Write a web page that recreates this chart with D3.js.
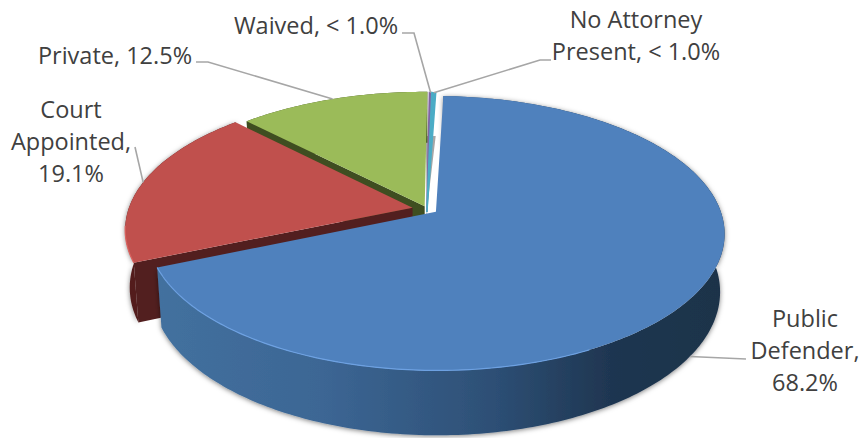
<!DOCTYPE html>
<html>
<head>
<meta charset="utf-8">
<script src="https://cdn.jsdelivr.net/npm/d3@7"></script>
<style>
  html, body { margin: 0; padding: 0; background: #fff; }
  text { font-family: "Open Sans", sans-serif; font-size: 23.5px; fill: #404040; }
</style>
</head>
<body>
<div id="chart"></div>
<script>
const categories = ["Public Defender", "Court Appointed", "Private", "Waived", "No Attorney Present"];
const shares = [68.2, 19.1, 12.5, 0.15, 0.25];
const shareLabels = ["68.2%", "19.1%", "12.5%", "< 1.0%", "< 1.0%"];

const width = 860, height = 438;

// Perspective set up for the tilted disc
const cx = 427, cy = 209;
const radiusX = 284, radiusY = 133;
const tilt = 0.155, thickness = 58, depthFade = 0.015;
const explode = [0.038, 0.052, 0.022, 0.012, 0.012];
const apexReach = [0, 0, 0, 0.035, 0.035];

function project(angle, r, z, offset, amount) {
    let u = r * Math.sin(angle) + amount * Math.sin(offset);
    let v = r * Math.cos(angle) + amount * Math.cos(offset);
    let w = 1 + tilt * v + depthFade * z;
    return [cx + radiusX * u / w, cy - (radiusY * v - thickness * z) / w];
}

const topColors = ["#4f81bd", "#c0504d", "#9bbb59", "#8064a2", "#4bacc6"];
const wallColors = ["url(#blueWall)", "#521f1f", "#3f4e21"];
const rimColors = ["#6da1e2", "#dc6460", "#b3d669"];

const pie = d3.pie().sort(null).startAngle(2 * Math.PI / 180).endAngle(362 * Math.PI / 180);
const slices = pie(shares).map((d, i) => {
    d.name = categories[i];
    d.mid = (d.startAngle + d.endAngle) / 2;
    d.i = i;
    return d;
});

const line = d3.line();

function rimPoints(d, z) {
    let n = Math.max(2, Math.ceil((d.endAngle - d.startAngle) * 60));
    return d3.range(n + 1).map(k => {
        let a = d.startAngle + (d.endAngle - d.startAngle) * k / n;
        return project(a, 1, z, d.mid, explode[d.i]);
    });
}

const svg = d3.select("#chart").append("svg")
    .attr("width", width).attr("height", height)
    .style("display", "block");

const defs = svg.append("defs");
const grad = defs.append("linearGradient").attr("id", "blueWall")
    .attr("gradientUnits", "userSpaceOnUse")
    .attr("x1", 150).attr("x2", 725).attr("y1", 0).attr("y2", 0);
[[0, "#43719f"], [0.3, "#3c6694"], [0.6, "#2d4f75"], [0.8, "#1f3651"], [1, "#1d3349"]].forEach(s => {
    grad.append("stop").attr("offset", s[0]).attr("stop-color", s[1]);
});
const shadow = defs.append("filter").attr("id", "wallShadow")
    .attr("x", "-10%").attr("y", "-10%").attr("width", "120%").attr("height", "120%");
shadow.append("feDropShadow").attr("dx", 0).attr("dy", 1).attr("stdDeviation", 2.5)
    .attr("flood-color", "#000").attr("flood-opacity", 0.5);

// Back to front so the nearer slices cover the farther ones
const drawOrder = [3, 4, 2, 1, 0];

// Grey shade seen through the gap beside the thin slices
const gapAngle = [-0.5, 3.2].map(a => a * Math.PI / 180);
svg.append("path")
    .attr("d", line([
        project(gapAngle[0], 0.6, 0, 0, 0),
        project(gapAngle[1], 0.6, 0, 0, 0),
        project(gapAngle[1], -0.05, 0, 0, 0),
        project(gapAngle[0], -0.05, 0, 0, 0)
    ]) + "Z")
    .attr("fill", "#a6a6a6");

const pieces = svg.selectAll("g.slice")
    .data(drawOrder.map(i => slices[i]))
    .join("g")
    .attr("class", "slice");

// Only the three big slices show a side
const solid = pieces.filter(d => d.i < 3);

// Outer wall of the slice
solid.append("path")
    .attr("class", "wall")
    .attr("filter", d => d.i < 2 ? "url(#wallShadow)" : null)
    .attr("fill", d => wallColors[d.i])
    .attr("d", d => line([...rimPoints(d, 0), ...rimPoints(d, 1).reverse()]) + "Z");

// Cut face on the side that looks toward the viewer
solid.filter(d => d.i > 0).append("path")
    .attr("class", "cut")
    .attr("fill", d => wallColors[d.i])
    .attr("d", d => {
        let e = explode[d.i];
        let apexTop = project(0, 0, 0, d.mid, e), apexBottom = project(0, 0, 1, d.mid, e);
        return line([apexTop, project(d.startAngle, 1, 0, d.mid, e), project(d.startAngle, 1, 1, d.mid, e), apexBottom]) + "Z";
    });

// Top face, the thin slices get a stroke so they stay visible
pieces.append("path")
    .attr("class", "top")
    .attr("fill", d => topColors[d.i])
    .attr("stroke", d => d.i > 2 ? topColors[d.i] : "none")
    .attr("stroke-width", 1.6)
    .attr("d", d => line([project(d.mid, -apexReach[d.i], 0, d.mid, explode[d.i]), ...rimPoints(d, 0)]) + "Z");

// Lighter edge along the near rim
solid.append("path")
    .attr("class", "rim")
    .attr("fill", "none")
    .attr("stroke", d => rimColors[d.i])
    .attr("stroke-width", 1.2)
    .attr("d", d => line(rimPoints(d, 0).filter(p => p[1] > cy + 15 && p[0] < 590)));

// Labels and leader lines, layout follows the slice order
const labelLines = [
    ["Public", "Defender,", shareLabels[0]],
    ["Court", "Appointed,", shareLabels[1]],
    ["Private, " + shareLabels[2]],
    ["Waived, " + shareLabels[3]],
    ["No Attorney", "Present, " + shareLabels[4]]
];
const labelPos = [[805, 319], [71, 110], [115, 56], [316, 26], [636, 20]];
const lineStep = 32;
const elbows = [
    [[746, 359]],
    [[135, 147]],
    [[208, 62], [196, 62]],
    [[414, 33], [402, 33]],
    [[540, 60], [551, 60]]
];
const anchorDepth = [1, 0, 0, 0, 0];

slices.forEach((d, i) => {
    let start = project(d.mid, 1, anchorDepth[i], d.mid, explode[i]);
    svg.append("path")
        .attr("fill", "none")
        .attr("stroke", "#a6a6a6")
        .attr("stroke-width", 1.6)
        .attr("d", line([start, ...elbows[i]]));
    let label = svg.append("text")
        .attr("text-anchor", "middle");
    labelLines[i].forEach((t, k) => {
        label.append("tspan")
            .attr("x", labelPos[i][0])
            .attr("y", labelPos[i][1] + k * lineStep)
            .attr("dy", "0.35em")
            .text(t);
    });
});
</script>
</body>
</html>
